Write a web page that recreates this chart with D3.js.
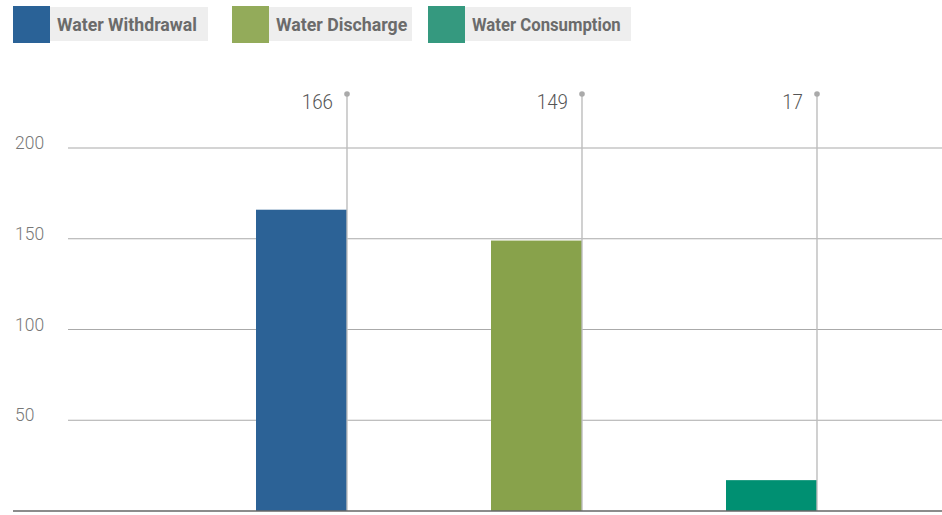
<!DOCTYPE html>
<html>
<head>
<meta charset="utf-8">
<script src="https://cdn.jsdelivr.net/npm/d3@7"></script>
<style>
  html, body { margin: 0; padding: 0; background: #fff; }
  svg { display: block; }
</style>
</head>
<body>
<svg id="chart" width="942" height="515"></svg>
<script>
// ---- data ----
const categories = ["Water Withdrawal", "Water Discharge", "Water Consumption"];
const values = [166, 149, 17];
const tickValues = [50, 100, 150, 200];
const barColors = ["#2c6296", "#88a24b", "#009072"];
const legendColors = ["#2a6297", "#93ab5a", "#35997f"];

// ---- layout ----
const W = 942, H = 515;
const baseY = 511;
const svg = d3.select("#chart");

const y = d3.scaleLinear().domain([0, 200]).range([baseY, 148]);
const x = d3.scaleBand().domain(categories).range([229.5, 934.5]).padding(0);
const barW = 91;
const lineX = c => x(c) + x.bandwidth() / 2;

// gridlines
const grid = svg.append("g");
grid.selectAll("line").data(tickValues).join("line")
  .attr("x1", 68).attr("x2", W)
  .attr("y1", d => y(d)).attr("y2", d => y(d))
  .attr("stroke", "#aaaaaa").attr("stroke-width", 1.2);

// tick labels
grid.selectAll("text").data(tickValues).join("text")
  .attr("x", 15).attr("y", d => y(d) + 1)
  .attr("font-family", "Roboto, sans-serif")
  .attr("font-weight", 300)
  .attr("font-size", 19)
  .attr("fill", "#777")
  .attr("textLength", d => String(d).length * 9.7)
  .attr("lengthAdjust", "spacingAndGlyphs")
  .text(d => d);

// bars
svg.append("g").selectAll("rect").data(categories).join("rect")
  .attr("x", c => lineX(c) - barW)
  .attr("width", barW)
  .attr("y", (c, i) => y(values[i]))
  .attr("height", (c, i) => baseY - y(values[i]))
  .attr("fill", (c, i) => barColors[i]);

// connectors
const conn = svg.append("g");
conn.selectAll("line").data(categories).join("line")
  .attr("x1", c => lineX(c)).attr("x2", c => lineX(c))
  .attr("y1", 94).attr("y2", baseY)
  .attr("stroke", "#bdbdbd").attr("stroke-width", 1.4);
conn.selectAll("circle").data(categories).join("circle")
  .attr("cx", c => lineX(c)).attr("cy", 94).attr("r", 2.8)
  .attr("fill", "#aaaaaa");
conn.selectAll("text").data(categories).join("text")
  .attr("x", c => lineX(c) - 14).attr("y", 109)
  .attr("text-anchor", "end")
  .attr("font-family", "Roboto, sans-serif")
  .attr("font-weight", 300)
  .attr("font-size", 21)
  .attr("fill", "#555")
  .attr("textLength", (c, i) => String(values[i]).length * 10.4)
  .attr("lengthAdjust", "spacingAndGlyphs")
  .text((c, i) => values[i]);

// baseline
svg.append("line")
  .attr("x1", 13).attr("x2", W)
  .attr("y1", baseY).attr("y2", baseY)
  .attr("stroke", "#666").attr("stroke-width", 1.5);

// legend
const legendX = [13, 232, 428];
const legendEnd = [208, 412, 631];
const lg = svg.append("g");
categories.forEach((c, i) => {
  const g = lg.append("g");
  g.append("rect").attr("x", legendX[i] + 37).attr("y", 7)
    .attr("width", legendEnd[i] - legendX[i] - 37).attr("height", 34)
    .attr("fill", "#eeeeee");
  g.append("rect").attr("x", legendX[i]).attr("y", 6)
    .attr("width", 37).attr("height", 37)
    .attr("fill", legendColors[i]);
  g.append("text").attr("x", legendX[i] + 44).attr("y", 31)
    .attr("font-family", "Roboto, sans-serif")
    .attr("font-weight", 700)
    .attr("font-size", 19)
    .attr("fill", "#6b6b6b")
    .attr("textLength", c.length * 8.75)
    .attr("lengthAdjust", "spacingAndGlyphs")
    .text(c);
});
</script>
</body>
</html>
